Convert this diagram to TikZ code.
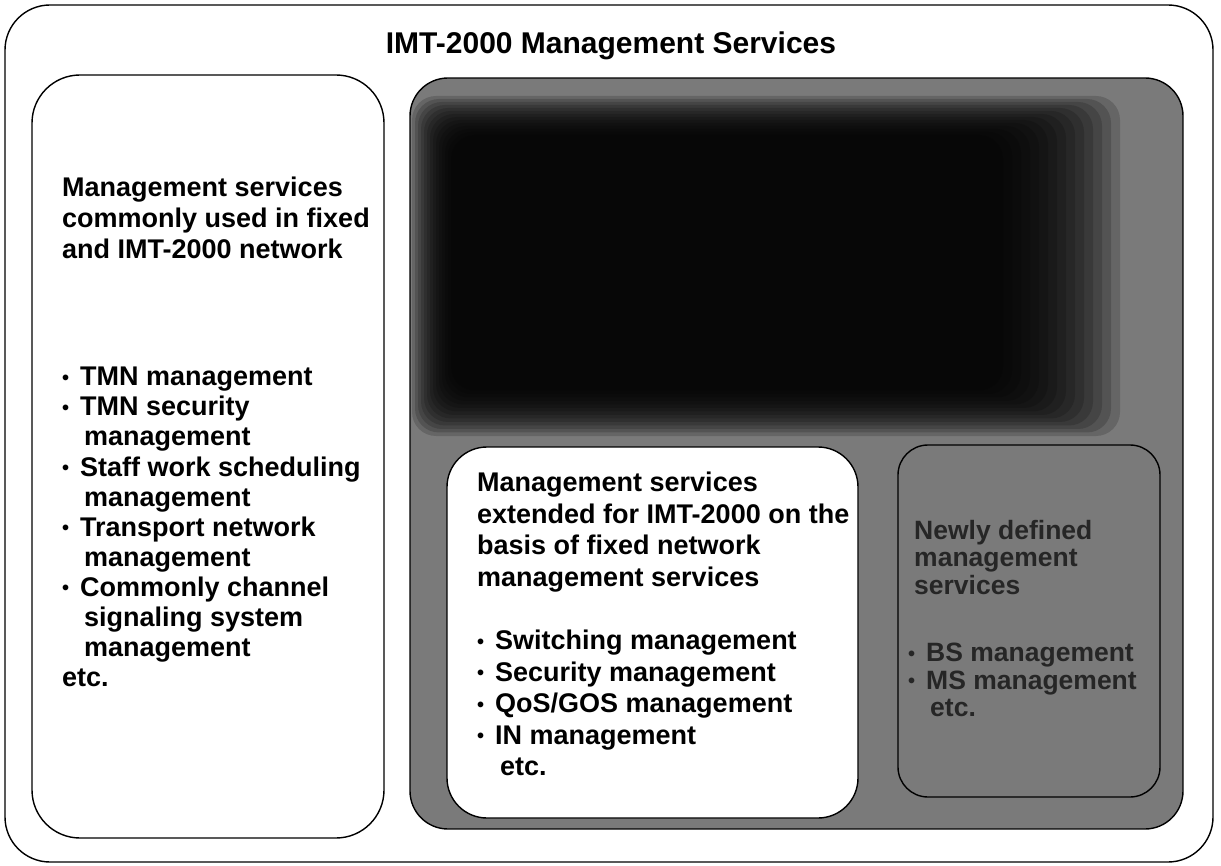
\documentclass[tikz,border=0pt]{standalone}
\usepackage{fontspec}
\setmainfont{Liberation Sans}

\tikzset{
  box/.style={draw=black, line width=1.4pt},
  txt/.style={anchor=north west, align=left, inner sep=0pt, font=\bfseries\fontsize{27}{31}\selectfont},
  smalltxt/.style={txt, font=\bfseries\fontsize{26.5}{27.5}\selectfont, text=black!85},
}
\newcommand{\bul}{\makebox[18pt][l]{\raisebox{1.5pt}{\fontsize{20}{20}\selectfont\textbullet}}}
\newcommand{\ind}{\hspace*{22pt}}

\begin{document}
\begin{tikzpicture}[x=1pt,y=-1pt]
  \path[use as bounding box] (0,0) rectangle (1221,866);
  \fill[white] (0,0) rectangle (1221,866);

  % outer frame and title
  \draw[box, rounded corners=45pt] (5,5) rectangle (1213,862);
  \node[font=\bfseries\fontsize{30}{36}\selectfont, inner sep=0pt] (title) at (611,46) {IMT-2000 Management Services};

  % services common to fixed network
  \draw[box, rounded corners=48pt] (32,75) rectangle (384,838);
  \node[txt] (fixedhead) at (62,177) {Management services\\commonly used in fixed\\and IMT-2000 network};
  \node[txt, font=\bfseries\fontsize{27}{30.1}\selectfont] (fixedlist) at (62,367) {%
    \bul TMN management\\
    \bul TMN security\\
    \ind management\\
    \bul Staff work scheduling\\
    \ind management\\
    \bul Transport network\\
    \ind management\\
    \bul Commonly channel\\
    \ind signaling system\\
    \ind management\\
    etc.};

  % shaded area
  \begin{scope}
    \path[clip, rounded corners=38pt] (410,78) rectangle (1183,829);
    \fill[black!52] (410,78) rectangle (1183,829);
    \foreach \i in {0,...,13} {
      \fill[black, opacity=0.17, rounded corners=24pt] (412+3*\i,96+3*\i) rectangle (1120-9*\i,436-3.5*\i);
    }
  \end{scope}
  \draw[box, rounded corners=38pt] (410,78) rectangle (1183,829);

  % extended services
  \draw[box, fill=white, rounded corners=40pt] (447,447) rectangle (858,818);
  \node[txt, font=\bfseries\fontsize{27}{31.5}\selectfont] (exthead) at (477,472) {Management services\\extended for IMT-2000 on the\\basis of fixed network\\management services};
  \node[txt, font=\bfseries\fontsize{27}{31.5}\selectfont] (extlist) at (477,630) {%
    \bul Switching management\\
    \bul Security management\\
    \bul QoS/GOS management\\
    \bul IN management\\
    \hspace*{23pt}etc.};

  % newly defined services
  \draw[box, rounded corners=30pt] (898,445) rectangle (1160,797);
  \node[smalltxt] (newhead) at (914,520) {Newly defined\\management\\services};
  \node[smalltxt] (newlist) at (908,643) {%
    \bul BS management\\
    \bul MS management\\
    \hspace*{22pt}etc.};
\end{tikzpicture}
\end{document}
